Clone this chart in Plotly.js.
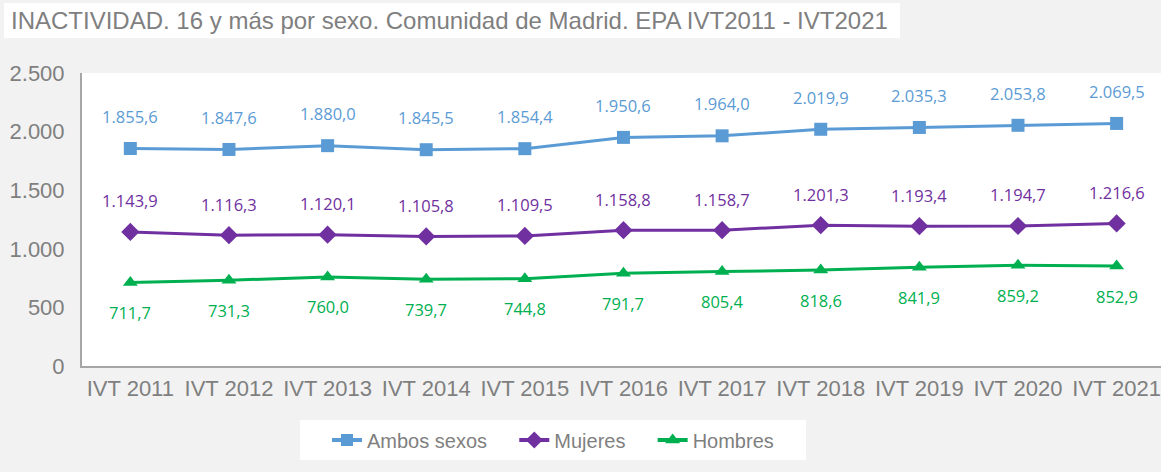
<!DOCTYPE html>
<html>
<head>
<meta charset="utf-8">
<script src="https://cdn.plot.ly/plotly-3.0.1.min.js"></script>
<style>html,body{margin:0;padding:0;background:#f2f2f2;}#chart{width:1161px;height:472px;}</style>
</head>
<body>
<div id="chart"></div>
<script>
const categories = ["IVT 2011","IVT 2012","IVT 2013","IVT 2014","IVT 2015","IVT 2016","IVT 2017","IVT 2018","IVT 2019","IVT 2020","IVT 2021"];
const ambosSexos = [1855.6,1847.6,1880.0,1845.5,1854.4,1950.6,1964.0,2019.9,2035.3,2053.8,2069.5];
const mujeres = [1143.9,1116.3,1120.1,1105.8,1109.5,1158.8,1158.7,1201.3,1193.4,1194.7,1216.6];
const hombres = [711.7,731.3,760.0,739.7,744.8,791.7,805.4,818.6,841.9,859.2,852.9];
const yTicks = [0,500,1000,1500,2000,2500];
const yTickLabels = ["0","500","1.000","1.500","2.000","2.500"];
const titleText = "INACTIVIDAD. 16 y más por sexo. Comunidad de Madrid. EPA IVT2011 - IVT2021";

function fmt(v){
  const parts = v.toFixed(1).split(".");
  const intPart = parts[0].replace(/\B(?=(\d{3})+(?!\d))/g, ".");
  return intPart + "," + parts[1];
}

const W = 1161, H = 472;
const mL = 82, mR = 0, mT = 73, mB = 106;
const pw = W - mL - mR, ph = H - mT - mB;
const px = x => (x - mL) / pw;
const py = y => (H - mB - y) / ph;

const series = [
  {name:"Ambos sexos", y: ambosSexos, color:"#5b9bd5", symbol:"square", size:13, lsize:12, shift:32},
  {name:"Mujeres", y: mujeres, color:"#7030a0", symbol:"diamond", size:14, lsize:13, shift:31},
  {name:"Hombres", y: hombres, color:"#00b050", symbol:"triangle-up", size:13, lsize:13, shift:-30}
];

const traces = series.map(s => ({
  type:"scatter", mode:"lines+markers", name:s.name, showlegend:false,
  x: categories, y: s.y,
  line:{color:s.color, width:3},
  marker:{symbol:s.symbol, size:s.size, color:s.color},
  cliponaxis:false
}));
const pad = "\u00a0\u00a0\u00a0\u00a0";
series.forEach((s, i) => {
  traces.push({
    type:"scatter", mode:"lines+markers", name: s.name + (i < series.length - 1 ? pad : ""),
    x:[null], y:[null], showlegend:true,
    line:{color:s.color, width:4},
    marker:{symbol:s.symbol, size:s.lsize, color:s.color}
  });
});

const annotations = [];
series.forEach(s => {
  s.y.forEach((v,i) => {
    annotations.push({
      x: categories[i], y: v, xref:"x", yref:"y",
      text: fmt(v), showarrow:false, yshift: s.shift,
      font:{family:"Open Sans, Noto Sans, sans-serif", size:16.5, color:s.color}
    });
  });
});

const layout = {
  width: W, height: H,
  margin:{l:mL, r:mR, t:mT, b:mB, pad:0},
  paper_bgcolor:"#f2f2f2",
  plot_bgcolor:"#ffffff",
  showlegend:true,
  title:{
    text: titleText, x: 11/W, xanchor:"left", xref:"container",
    y: 1 - 21/H, yanchor:"middle", yref:"container",
    font:{family:"Liberation Sans, Arial, sans-serif", size:24, color:"#7f7f7f"}
  },
  xaxis:{
    type:"category", range:[-0.49, 10.45],
    showline:true, linecolor:"#a6a6a6", linewidth:2,
    showgrid:false, zeroline:false, ticks:"",
    tickfont:{family:"Liberation Sans, Arial, sans-serif", size:22, color:"#7f7f7f"},
    ticklabelstandoff: 2
  },
  yaxis:{
    range:[0,2500], tickvals: yTicks, ticktext: yTickLabels,
    showline:true, linecolor:"#a6a6a6", linewidth:2,
    showgrid:false, zeroline:false, ticks:"",
    tickfont:{family:"Liberation Sans, Arial, sans-serif", size:22, color:"#7f7f7f"},
    ticklabelstandoff: 11
  },
  legend:{
    orientation:"h", x: px(553), xanchor:"center", y: py(440), yanchor:"middle",
    bgcolor:"rgba(0,0,0,0)",
    font:{family:"Liberation Sans, Arial, sans-serif", size:20, color:"#7f7f7f"},
    traceorder:"normal"
  },
  shapes:[
    {type:"rect", xref:"paper", yref:"paper", x0:px(4), x1:px(900), y0:py(3), y1:py(38), fillcolor:"#ffffff", line:{width:0}, layer:"below"},
    {type:"rect", xref:"paper", yref:"paper", x0:px(300), x1:px(806), y0:py(420), y1:py(460), fillcolor:"#ffffff", line:{width:0}, layer:"below"}
  ],
  annotations: annotations
};

Plotly.newPlot("chart", traces, layout, {displayModeBar:false, staticPlot:true});
</script>
</body>
</html>
